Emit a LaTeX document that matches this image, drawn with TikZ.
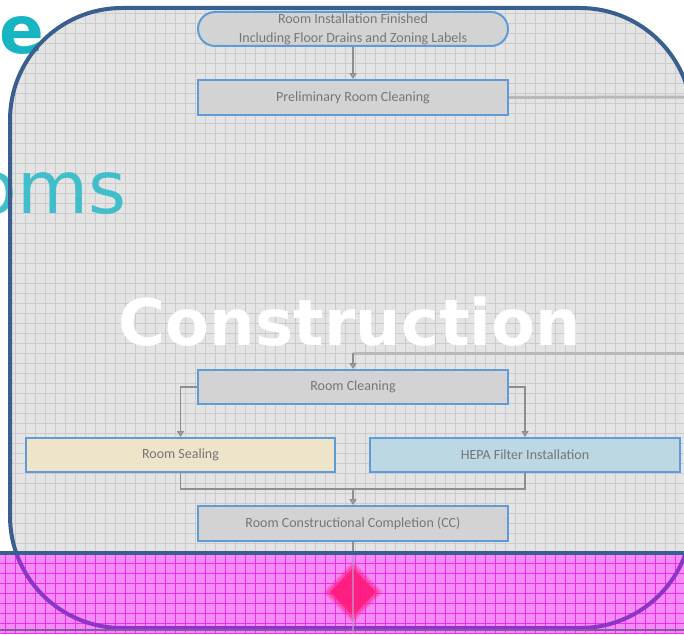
\documentclass[tikz,border=0pt]{standalone}
\usepackage{fontspec}
\setmainfont{DejaVu Sans}
\newfontfamily\boxfont{Carlito}
\usetikzlibrary{arrows.meta,shapes.geometric}

\definecolor{gridbg}{HTML}{E4E4E4}
\definecolor{gridln}{HTML}{CBCBCB}
\definecolor{framec}{HTML}{3A5F8E}
\definecolor{tealA}{HTML}{17B5C4}
\definecolor{tealB}{HTML}{40BEC9}
\definecolor{boxfill}{HTML}{D3D3D3}
\definecolor{boxedge}{HTML}{5D9CD6}
\definecolor{sealfill}{HTML}{EDE4C9}
\definecolor{hepafill}{HTML}{BCD8E2}
\definecolor{boxtext}{HTML}{767676}
\definecolor{connc}{HTML}{8E8E8E}
\definecolor{feedc}{HTML}{B9B9B9}
\definecolor{bandbg}{HTML}{F58CF5}
\definecolor{bandln}{HTML}{F02CF0}
\definecolor{bandframe}{HTML}{8B36C6}
\definecolor{bandconn}{HTML}{C490C8}
\definecolor{gem}{HTML}{FF1E84}

\tikzset{
  stepbox/.style={draw=boxedge, line width=2, fill=boxfill, minimum width=310,
    minimum height=34, inner sep=0, text=boxtext,
    font=\boxfont\fontsize{14}{19}\selectfont, align=center},
  conn/.style={draw=connc, line width=1.5},
  arr/.style={conn, -{Triangle[open, length=6, width=7]}},
  feed/.style={draw=feedc, line width=3},
  gridline/.style={draw=gridln, line width=0.7},
  bandline/.style={draw=bandln, line width=0.9},
  panel/.style={rounded corners=112},
}

\begin{document}
\begin{tikzpicture}[x=1pt, y=-1pt]
\useasboundingbox (0,0) rectangle (684,634);
\fill[white] (0,0) rectangle (684,634);

% gridded panel
\begin{scope}
  \clip[panel] (10,8) rectangle (692,628);
  \fill[gridbg] (0,0) rectangle (700,640);
  \foreach \i in {5,15,...,685} \draw[gridline] (\i,0) -- (\i,640);
  \foreach \j in {3,13,...,633} \draw[gridline] (0,\j) -- (700,\j);
\end{scope}

% heading fragments
\node[anchor=base east, inner sep=0, text=tealA, font=\bfseries\fontsize{66}{66}\selectfont] (head) at (44,53) {e};
\node[anchor=base east, inner sep=0, text=tealB, font=\fontsize{73}{73}\selectfont] (sub) at (127,213) {oms};

% panel frame
\draw[framec, line width=4, panel] (10,8) rectangle (692,628);

% stage title
\node[anchor=base, inner sep=0, text=white, font=\bfseries\fontsize{64}{64}\selectfont] (stage) at (350,345) {Construction};

% process steps
\node[stepbox, rounded corners=17] (inst) at (353,29) {Room Installation Finished\\Including Floor Drains and Zoning Labels};
\node[stepbox, minimum height=35] (pre) at (353,97.5) {Preliminary Room Cleaning};
\node[stepbox] (clean) at (353,387) {Room Cleaning};
\node[stepbox, fill=sealfill, minimum width=309] (seal) at (180.5,455) {Room Sealing};
\node[stepbox, fill=hepafill] (hepa) at (525,455) {HEPA Filter Installation};
\node[stepbox, minimum height=35] (cc) at (353,523.5) {Room Constructional Completion (CC)};

\coordinate (outA) at (684,97);
\coordinate (inB) at (684,353);
\coordinate (turn) at (353,353);
\coordinate (merge) at (353,489);
\coordinate (bandtop) at (353,555);
\coordinate (bot) at (353,634);

\draw[arr] (inst) -- (pre);
\draw[feed] (pre.east) -- (outA);
\draw[feed] (inB) -- (turn);
\draw[arr] (turn) -- (clean.north);
\draw[arr] (clean.west) -| (seal.north);
\draw[arr] (clean.east) -| (hepa.north);
\draw[conn] (seal.south) |- (merge) -| (hepa.south);
\draw[arr] (merge) -- (cc.north);
\draw[conn] (cc.south) -- (bot);

% highlighted band
\begin{scope}
  \clip (0,555) rectangle (684,634);
  \fill[bandbg] (0,555) rectangle (684,634);
  \foreach \i in {5,15,...,685} \draw[bandline] (\i,555) -- (\i,634);
  \foreach \j in {563,573,...,633} \draw[bandline] (0,\j) -- (684,\j);
  \draw[bandframe, line width=4, panel] (10,8) rectangle (692,628);
  \draw[draw=bandframe!50!gray, line width=1.5] (0,630) -- (684,630);
\end{scope}
\draw[framec, line width=4] (0,553) -- (684,553);

% decision gate
\node[diamond, fill=gem, opacity=0.25, minimum width=60, minimum height=62, inner sep=0] (glowA) at (353,592) {};
\node[diamond, fill=gem, opacity=0.45, minimum width=54, minimum height=56, inner sep=0] (glowB) at (353,592) {};
\node[diamond, fill=gem, minimum width=46, minimum height=48, inner sep=0] (gate) at (353,592) {};
\draw[draw=bandconn, line width=1.5, opacity=0.7] (bandtop) -- (bot);
\end{tikzpicture}
\end{document}
